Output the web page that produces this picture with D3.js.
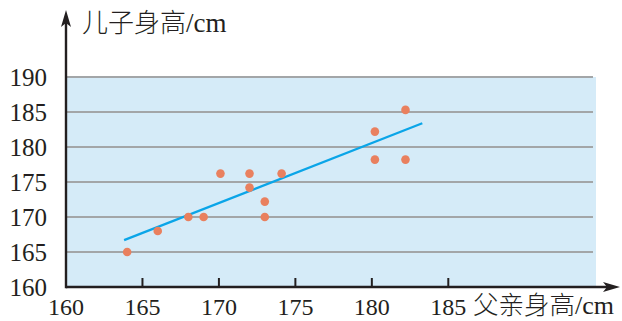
<!DOCTYPE html>
<html><head><meta charset="utf-8">
<script src="https://cdn.jsdelivr.net/npm/d3@7"></script>
<style>body{margin:0;background:#fff}svg{display:block}
.serif{font-family:"Liberation Serif","Times New Roman","DejaVu Serif",serif}
.cjk{font-family:"Noto Sans CJK SC",sans-serif;font-weight:300}
</style>
</head><body>
<script>
const fatherHeights = [164, 166, 168, 169, 170.1, 172, 172, 173, 173, 174.1, 180.2, 180.2, 182.2, 182.2];
const sonHeights    = [165, 168, 170, 170, 176.2, 176.2, 174.2, 172.2, 170, 176.2, 182.2, 178.2, 185.3, 178.2];
const fitLineX = [163.8, 183.3];
const fitLineY = [166.7, 183.4];
const xTicks = [160, 165, 170, 175, 180, 185];
const yTicks = [160, 165, 170, 175, 180, 185, 190];
const yTitle = ["儿子身高", "/cm"];
const xTitle = ["父亲身高", "/cm"];

const W = 622, H = 321;
const svg = d3.select("body").append("svg").attr("width", W).attr("height", H);
const x = d3.scaleLinear().domain([160, 185]).range([66, 448.3]);
const y = d3.scaleLinear().domain([160, 190]).range([287, 77]);

// background
svg.append("rect").attr("x", x(160)).attr("y", y(190))
  .attr("width", 596 - x(160)).attr("height", y(160) - y(190)).attr("fill", "#d5ebf8");

// gridlines
svg.append("g").selectAll("line").data(yTicks.filter(d => d > 160)).join("line")
  .attr("x1", x(160)).attr("x2", 593).attr("y1", d => y(d)).attr("y2", d => y(d))
  .attr("stroke", "#a3a6a8").attr("stroke-width", 2);

// y labels
svg.append("g").selectAll("text").data(yTicks).join("text")
  .attr("class", "serif")
  .attr("x", 47).attr("y", d => y(d)).attr("dy", "0.34em")
  .attr("text-anchor", "end")
  .attr("font-size", 25).attr("fill", "#231f20")
  .text(d => d);

// x ticks (upward)
svg.append("g").selectAll("line").data(xTicks.filter(d => d > 160)).join("line")
  .attr("x1", d => x(d)).attr("x2", d => x(d)).attr("y1", 278).attr("y2", y(160))
  .attr("stroke", "#231f20").attr("stroke-width", 2);

// x labels
svg.append("g").selectAll("text").data(xTicks).join("text")
  .attr("class", "serif")
  .attr("x", d => x(d)).attr("y", 315)
  .attr("text-anchor", "middle")
  .attr("font-size", 24).attr("fill", "#231f20")
  .text(d => d);

// regression line
svg.append("line")
  .attr("x1", x(fitLineX[0])).attr("y1", y(fitLineY[0]))
  .attr("x2", x(fitLineX[1])).attr("y2", y(fitLineY[1]))
  .attr("stroke", "#0aa5e8").attr("stroke-width", 2.3);

// points
svg.append("g").selectAll("circle").data(fatherHeights.map((f, i) => [f, sonHeights[i]])).join("circle")
  .attr("cx", d => x(d[0])).attr("cy", d => y(d[1])).attr("r", 4.3)
  .attr("fill", "#e9805f");

// axes
svg.append("line").attr("x1", x(160)).attr("x2", 612).attr("y1", y(160)).attr("y2", y(160))
  .attr("stroke", "#231f20").attr("stroke-width", 2.4);
svg.append("path").attr("d", `M620,${y(160)} L603,${y(160)-5} L607,${y(160)} L603,${y(160)+5} Z`).attr("fill", "#231f20");
svg.append("line").attr("x1", x(160)).attr("x2", x(160)).attr("y1", y(160) + 1.2).attr("y2", 18)
  .attr("stroke", "#231f20").attr("stroke-width", 2.4);
svg.append("path").attr("d", `M${x(160)},10 L${x(160)-5},27 L${x(160)},23 L${x(160)+5},27 Z`).attr("fill", "#231f20");

// titles
function title(px, py, parts, cjkSize, latSize) {
  const t = svg.append("text").attr("x", px).attr("y", py).attr("fill", "#231f20");
  t.append("tspan").attr("class", "cjk").attr("font-size", cjkSize).text(parts[0]);
  t.append("tspan").attr("class", "serif").attr("font-size", latSize).text(parts[1]);
}
title(82, 32, yTitle, 26, 27);
title(473, 314, xTitle, 25.5, 26);
</script>
</body></html>
